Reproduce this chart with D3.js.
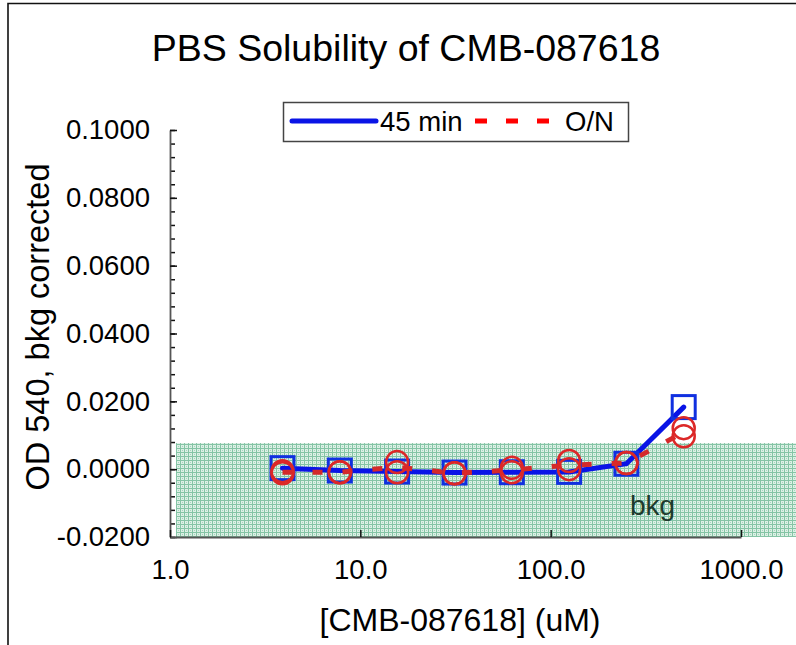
<!DOCTYPE html>
<html>
<head>
<meta charset="utf-8">
<script src="https://cdn.jsdelivr.net/npm/d3@7"></script>
<style>
  body { margin: 0; background: #fff; }
  svg { display: block; font-family: "Liberation Sans", Arial, sans-serif; }
</style>
</head>
<body>
<div id="chart"></div>
<script>
// ---------------------------DATA-----------------------------------
const conc = [3.9, 7.8, 15.6, 31.25, 62.5, 125, 250, 500];
const min45 = [0.0003, -0.0004, -0.0007, -0.001, -0.0009, -0.0008, 0.0016, 0.0183];
const onRep1 = [-0.0006, -0.0009, 0.0021, -0.0012, 0.0004, 0.0024, 0.0018, 0.0121];
const onRep2 = [-0.0012, -0.0009, -0.0009, -0.0012, -0.0009, 0.0, 0.0018, 0.0097];
const bkgLevel = [-0.02, 0.0077];
const xTicks = [1, 10, 100, 1000];
const yTicks = [-0.02, 0, 0.02, 0.04, 0.06, 0.08, 0.1];
const yMinor = d3.range(-0.02, 0.1001, 0.004);

const width = 796;
const height = 645;

const svg = d3.select("#chart")
  .append("svg")
  .attr("width", width)
  .attr("height", height);

const x = d3.scaleLog().domain([1, 1000]).range([170, 741]);
const y = d3.scaleLinear().domain([-0.02, 0.1]).range([537, 130]);

// outer frame (top + left only visible)
svg.append("path")
  .attr("d", `M8,${height} V3.5 H${width}`)
  .attr("fill", "none")
  .attr("stroke", "#111")
  .attr("stroke-width", 1.6);

// ---------------------------BKG BAND-----------------------------------
const defs = svg.append("defs");
const pat = defs.append("pattern")
  .attr("id", "bkgPat")
  .attr("patternUnits", "userSpaceOnUse")
  .attr("width", 4)
  .attr("height", 4);
pat.append("rect").attr("width", 4).attr("height", 4).attr("fill", "#dcf0e5");
pat.append("rect").attr("width", 1).attr("height", 4).attr("fill", "#84c4a5");
pat.append("rect").attr("width", 4).attr("height", 1).attr("fill", "#84c4a5");
pat.append("rect").attr("x", 2).attr("y", 2).attr("width", 1).attr("height", 1).attr("fill", "#a6d5be");

svg.append("rect")
  .attr("x", 176)
  .attr("y", y(bkgLevel[1]))
  .attr("width", width - 176)
  .attr("height", y(bkgLevel[0]) - y(bkgLevel[1]))
  .attr("fill", "url(#bkgPat)");

svg.append("text")
  .attr("x", 630)
  .attr("y", 515)
  .attr("font-size", 28)
  .attr("fill", "#1e3a2c")
  .text("bkg");

// ---------------------------AXES-----------------------------------
const yAxisMinor = svg.append("g")
  .attr("transform", "translate(170,0)")
  .call(d3.axisLeft(y).tickValues(yMinor).tickSize(-5).tickSizeOuter(0).tickFormat(""));
yAxisMinor.select(".domain").remove();

const fmtY = (d) => d3.format(".4f")(d).replace("\u2212", "-");
const fmtX = (d) => d3.format(".1f")(d);

const yAxis = svg.append("g")
  .attr("transform", "translate(170,0)")
  .call(d3.axisLeft(y).tickValues(yTicks).tickSize(-7).tickSizeOuter(0)
    .tickPadding(20).tickFormat(fmtY));

const xAxis = svg.append("g")
  .attr("transform", "translate(0,537)")
  .call(d3.axisBottom(x).tickValues(xTicks).tickSize(-7).tickSizeOuter(0)
    .tickPadding(22).tickFormat(fmtX));

svg.selectAll(".tick line").attr("stroke", "#111").attr("stroke-width", 1.5);
svg.selectAll(".domain").attr("stroke", "#555").attr("stroke-width", 1.8);
svg.selectAll(".tick text")
  .attr("font-size", 27.5)
  .attr("font-family", "Liberation Sans, Arial, sans-serif")
  .attr("fill", "#000");

// ---------------------------SERIES-----------------------------------
const seriesLine = d3.line().x((d, i) => x(conc[i])).y((d) => y(d));
const onMean = onRep1.map((d, i) => (d + onRep2[i]) / 2);

svg.append("path")
  .datum(min45)
  .attr("d", seriesLine)
  .attr("fill", "none")
  .attr("stroke", "#0a14e6")
  .attr("stroke-width", 5)
  .attr("stroke-linecap", "round");

svg.append("g")
  .selectAll("rect")
  .data(min45)
  .join("rect")
  .attr("x", (d, i) => x(conc[i]) - 11.5)
  .attr("y", (d) => y(d) - 11.5)
  .attr("width", 23)
  .attr("height", 23)
  .attr("fill", "none")
  .attr("stroke", "#1030e0")
  .attr("stroke-width", 3);

svg.append("path")
  .datum(onMean)
  .attr("d", seriesLine)
  .attr("fill", "none")
  .attr("stroke", "#d42a2a")
  .attr("stroke-width", 5)
  .attr("stroke-dasharray", "10,20");

const circles = svg.append("g");
[onRep1, onRep2].forEach((rep) => {
  circles.selectAll(null)
    .data(rep)
    .join("circle")
    .attr("cx", (d, i) => x(conc[i]))
    .attr("cy", (d) => y(d))
    .attr("r", 11)
    .attr("fill", "none")
    .attr("stroke", "#dc2828")
    .attr("stroke-width", 2.5);
});

// ---------------------------TEXT-----------------------------------
svg.append("text")
  .attr("x", 406)
  .attr("y", 61)
  .attr("text-anchor", "middle")
  .attr("font-size", 37.5)
  .text("PBS Solubility of CMB-087618");

svg.append("text")
  .attr("transform", "translate(49,327) rotate(-90)")
  .attr("text-anchor", "middle")
  .attr("font-size", 32.5)
  .text("OD 540, bkg corrected");

svg.append("text")
  .attr("x", 460)
  .attr("y", 631)
  .attr("text-anchor", "middle")
  .attr("font-size", 32)
  .text("[CMB-087618] (uM)");

// ---------------------------LEGEND-----------------------------------
const legend = svg.append("g");
legend.append("rect")
  .attr("x", 283.5).attr("y", 102.5)
  .attr("width", 345).attr("height", 39)
  .attr("fill", "#fff")
  .attr("stroke", "#444")
  .attr("stroke-width", 1.5);
legend.append("line")
  .attr("x1", 292).attr("x2", 376).attr("y1", 121).attr("y2", 121)
  .attr("stroke", "#0a14e6").attr("stroke-width", 5).attr("stroke-linecap", "round");
legend.append("text")
  .attr("x", 380).attr("y", 131).attr("font-size", 27.5).text("45 min");
legend.append("line")
  .attr("x1", 475).attr("x2", 549).attr("y1", 121).attr("y2", 121)
  .attr("stroke", "#ff0000").attr("stroke-width", 5).attr("stroke-dasharray", "12,19");
legend.append("text")
  .attr("x", 565).attr("y", 131).attr("font-size", 27.5).text("O/N");
</script>
</body>
</html>
